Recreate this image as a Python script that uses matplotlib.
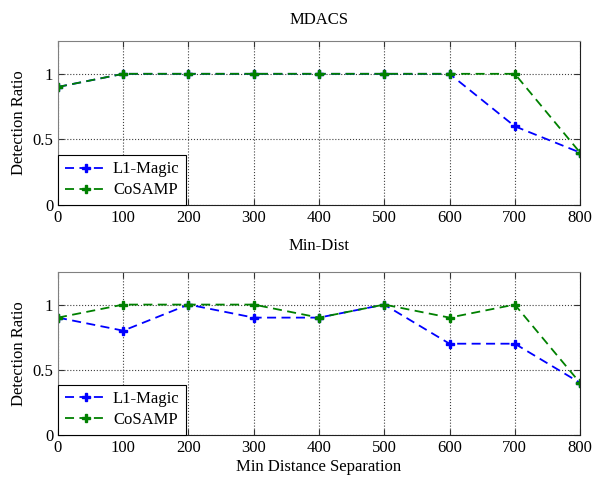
import matplotlib
matplotlib.use("Agg")
import matplotlib.pyplot as plt

x = [0, 100, 200, 300, 400, 500, 600, 700, 800]
top_l1 = [0.9, 1, 1, 1, 1, 1, 1, 0.6, 0.4]
top_cs = [0.9, 1, 1, 1, 1, 1, 1, 1, 0.4]
bot_l1 = [0.9, 0.8, 1, 0.9, 0.9, 1, 0.7, 0.7, 0.4]
bot_cs = [0.9, 1, 1, 1, 0.9, 1, 0.9, 1, 0.4]
titles = ["MDACS", "Min-Dist"]
xticks = [0, 100, 200, 300, 400, 500, 600, 700, 800]
yticks = [0, 0.5, 1]
yticklabels = ["0", "0.5", "1"]

plt.rcParams['font.family'] = ['Liberation Serif', 'DejaVu Serif']
plt.rcParams['font.size'] = 12

fig = plt.figure(figsize=(5.93, 4.78), dpi=100)
ax1 = fig.add_axes([0.0978, 0.5711, 0.8803, 0.3431])
ax2 = fig.add_axes([0.0978, 0.0900, 0.8803, 0.3410])

for ax, l1, cs, title, pad in [(ax1, top_l1, top_cs, titles[0], 12), (ax2, bot_l1, bot_cs, titles[1], 16)]:
    ax.plot(x, l1, color='#0000ff', linestyle=(0, (5, 3)), lw=1.3, marker='P', ms=6, label='L1-Magic')
    ax.plot(x, cs, color='#008000', linestyle=(0, (5, 3)), lw=1.3, marker='P', ms=6, label='CoSAMP')
    ax.set_xlim(0, 800)
    ax.set_ylim(0, 1.25)
    ax.set_xticks(xticks)
    ax.set_yticks(yticks)
    ax.set_yticklabels(yticklabels)
    ax.tick_params(direction='in', top=True, right=True, labelsize=12, length=4, color='#333333')
    for s in ['left', 'top']:
        ax.spines[s].set_color('#808080')
    for s in ['right', 'bottom']:
        ax.spines[s].set_color('#202020')
    ax.grid(True, linestyle=':', color='#404040', lw=0.8)
    ax.set_title(title, fontsize=12, pad=pad)
    ax.set_ylabel('Detection Ratio', fontsize=12, labelpad=4)
    leg = ax.legend(loc='lower left', fancybox=False, edgecolor='black', framealpha=1,
                    borderaxespad=0.0, handlelength=2.6, handletextpad=0.3, fontsize=12,
                    borderpad=0.4, labelspacing=0.3)
    leg.get_frame().set_linewidth(0.8)

ax2.set_xlabel('Min Distance Separation', fontsize=12, labelpad=2)

fig.savefig('out.png', dpi=100)
